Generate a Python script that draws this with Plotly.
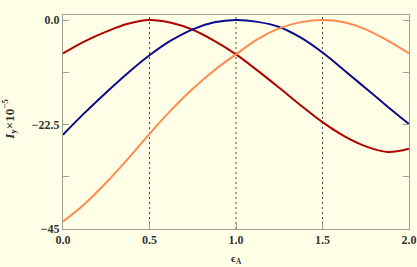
import plotly.graph_objects as go

x_vals = [0, 0.125, 0.25, 0.375, 0.5, 0.625, 0.75, 0.875, 1.0,
          1.125, 1.25, 1.375, 1.5, 1.625, 1.75, 1.875, 2.0]
red_vals = [-7.2, -4.6, -2.5, -0.8, 0.0, -0.6, -2.1, -4.5, -7.4,
            -10.9, -14.6, -18.4, -22.0, -25.0, -27.2, -28.4, -27.7]
blue_vals = [-24.7, -20.0, -15.6, -11.4, -7.6, -4.4, -2.0, -0.5, 0.0,
             -0.4, -1.5, -3.8, -7.0, -10.8, -14.7, -18.6, -22.4]
orange_vals = [-43.4, -39.6, -35.0, -29.9, -24.5, -19.4, -14.8, -10.8, -7.4,
               -4.1, -1.8, -0.45, 0.0, -0.5, -2.0, -4.4, -7.2]
dashed_x = [0.5, 1.0, 1.5]
x_ticks = [0.0, 0.5, 1.0, 1.5, 2.0]
x_ticktext = ["0.0", "0.5", "1.0", "1.5", "2.0"]
y_ticks = [0.0, -22.5, -45.0]
y_ticktext = ["0.0", "\u221222.5", "\u221245"]
y_minor = [-11.25, -33.75]

series = [
    (red_vals, "#B00000"),
    (blue_vals, "#0A0A8F"),
    (orange_vals, "#FF8A4C"),
]

fig = go.Figure()
for vals, col in series:
    fig.add_trace(go.Scatter(x=x_vals, y=vals, mode="lines",
                             line=dict(color=col, width=2, shape="spline", smoothing=1.0),
                             showlegend=False, hoverinfo="skip"))

for xv in dashed_x:
    fig.add_shape(type="line", x0=xv, x1=xv, y0=0, y1=1, xref="x", yref="paper",
                  line=dict(color="#444444", width=1, dash="2px,3px"), layer="below")

frame_col = "#A0A090"
tick_font = dict(family="Liberation Serif", size=12, color="#333333", weight="bold")

fig.update_layout(
    width=417, height=267,
    margin=dict(l=63, r=8, t=15, b=38),
    paper_bgcolor="#FFFFE8", plot_bgcolor="#FFFFE8",
    font=dict(family="Liberation Serif"),
    xaxis=dict(range=[0, 2], tickvals=x_ticks, ticktext=x_ticktext, automargin=False,
               showgrid=False, zeroline=False, showline=True, linecolor=frame_col,
               linewidth=1, mirror=True, ticks="inside", ticklen=6, tickcolor=frame_col,
               tickfont=tick_font),
    yaxis=dict(range=[-45, 1.08], tickvals=y_ticks, ticktext=y_ticktext, automargin=False,
               showgrid=False, zeroline=False, showline=True, linecolor=frame_col,
               linewidth=1, mirror="ticks", ticks="inside", ticklen=6, tickcolor=frame_col,
               tickfont=tick_font,
               minor=dict(tickvals=y_minor, ticks="inside", ticklen=6,
                          tickcolor=frame_col, showgrid=False)),
    annotations=[
        dict(text="\u03f5<sub>A</sub>", xref="paper", yref="paper", x=0.5, y=0,
             yshift=-30, xanchor="center", yanchor="middle", showarrow=False,
             font=dict(family="Liberation Serif", size=11, color="#333333", weight="bold")),
        dict(text="<i>I</i><sub>y</sub>\u00d710<sup>\u22125</sup>", xref="paper", yref="paper",
             x=0, xshift=-54, y=0.51, xanchor="center", yanchor="middle", textangle=-90,
             showarrow=False,
             font=dict(family="Liberation Serif", size=13, color="#333333", weight="bold")),
    ],
)

fig.write_html("out.html", config={"displayModeBar": False},
               post_script="document.body.style.margin='0';document.body.style.background='#FFFFE8';")
